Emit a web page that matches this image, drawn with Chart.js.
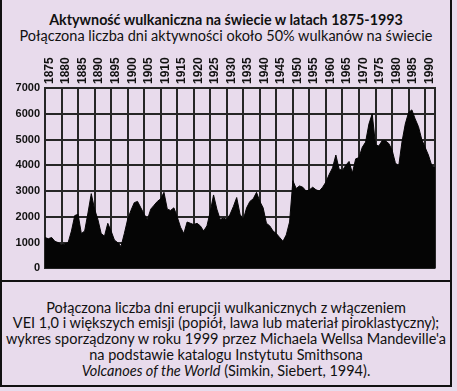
<!DOCTYPE html>
<html>
<head>
<meta charset="utf-8">
<script src="https://cdn.jsdelivr.net/npm/chart.js"></script>
<style>
  body { margin: 0; width: 457px; height: 391px; overflow: hidden; background: #e8dbec; font-family: Lato, sans-serif; color: #111; }
  .frame { position: absolute; left: 0; top: -4px; width: 452px; height: 391px; box-sizing: border-box; border: 2px solid #111; }
  .divider { position: absolute; left: 0; top: 280px; width: 452px; height: 2px; background: #111; }
  .title { position: absolute; left: 0; width: 452px; text-align: center; white-space: nowrap; }
  #t1 { top: 11px; font-size: 14.3px; font-weight: bold; }
  #t2 { top: 27px; font-size: 14.5px; }
  #chartBox { position: absolute; left: 0; top: 44px; }
  .caption { position: absolute; left: 0; top: 299.5px; width: 452px; text-align: center; font-size: 14.5px; line-height: 15.8px; white-space: nowrap; }
</style>
</head>
<body>
<div class="frame"></div>
<div class="divider"></div>
<div class="title" id="t1">Aktywność wulkaniczna na świecie w latach 1875-1993</div>
<div class="title" id="t2">Połączona liczba dni aktywności około 50% wulkanów na świecie</div>
<div id="chartBox"><canvas id="chartCanvas" width="452" height="236"></canvas></div>
<div class="caption">
  Połączona liczba dni erupcji wulkanicznych z włączeniem<br>
  VEI 1,0 i większych emisji (popiół, lawa lub materiał piroklastyczny);<br>
  wykres sporządzony w roku 1999 przez Michaela Wellsa Mandeville'a<br>
  na podstawie katalogu Instytutu Smithsona<br>
  <i>Volcanoes of the World</i> (Simkin, Siebert, 1994).
</div>
<script>
// Years 1875-1993, one value per year
const firstYear = 1875;
const lastYear = 1993;
const activityDays = [
  1200, 1150, 1200, 1050, 1000, 900, 950, 1000, 1450, 2050,   // 1875-1884
  2100, 1350, 1450, 2150, 2900, 2300, 1900, 1350, 1250, 1750, // 1885-1894
  1450, 1100, 1000, 850, 1350, 1900, 2250, 2550, 2600, 2350,  // 1895-1904
  2100, 1900, 2300, 2450, 2600, 2700, 2950, 2300, 2250, 2350, // 1905-1914
  2000, 1600, 1350, 1800, 1750, 1700, 1750, 1650, 1450, 1650, // 1915-1924
  2200, 2850, 2300, 1900, 1950, 1900, 2100, 2400, 2750, 2100, // 1925-1934
  1900, 2350, 2600, 2700, 2950, 2600, 2350, 1750, 1650, 1450, // 1935-1944
  1350, 1200, 1050, 1300, 1800, 3400, 3100, 3200, 3150, 3000, // 1945-1954
  3050, 3150, 3050, 3000, 3150, 3350, 3650, 3900, 4400, 3850, // 1955-1964
  3800, 4000, 4150, 3700, 4250, 4300, 4700, 4900, 5600, 6000, // 1965-1974
  4800, 4750, 4950, 4950, 4850, 4600, 4100, 3950, 4900, 5600, // 1975-1984
  6050, 6150, 5800, 5500, 5000, 4700, 4400, 4000, 3900        // 1985-1993
];
const yearTicks = [1875, 1880, 1885, 1890, 1895, 1900, 1905, 1910, 1915, 1920, 1925, 1930,
  1935, 1940, 1945, 1950, 1955, 1960, 1965, 1970, 1975, 1980, 1985, 1990, 1993];
const valueTicks = [0, 1000, 2000, 3000, 4000, 5000, 6000, 7000];

const points = activityDays.map((v, i) => ({ x: firstYear + i, y: v }));

const gridColor = '#262626';

const ctx = document.getElementById('chartCanvas').getContext('2d');
new Chart(ctx, {
  type: 'line',
  data: {
    datasets: [{
      data: points,
      fill: 'origin',
      backgroundColor: '#050505',
      borderColor: '#050505',
      borderWidth: 1,
      pointRadius: 0,
      tension: 0
    }]
  },
  options: {
    responsive: false,
    animation: false,
    layout: { padding: { right: 17, bottom: 8 } },
    plugins: { legend: { display: false }, tooltip: { enabled: false } },
    scales: {
      x: {
        type: 'linear',
        position: 'top',
        min: firstYear,
        max: lastYear,
        afterBuildTicks: s => { s.ticks = yearTicks.map(v => ({ value: v })); },
        afterFit: s => { s.height = 44; },
        ticks: {
          autoSkip: false,
          minRotation: 90,
          maxRotation: 90,
          padding: 4,
          labelOffset: 19,
          font: { family: 'Liberation Sans', size: 12, weight: 'bold' },
          color: '#111',
          // 1993 only closes the grid on the right, no label
          callback: v => (v % 5 === 0 ? String(v) : '')
        },
        grid: { color: gridColor, lineWidth: 2, drawTicks: false },
        border: { color: gridColor, width: 2 }
      },
      y: {
        min: 0,
        max: 7000,
        afterBuildTicks: s => { s.ticks = valueTicks.map(v => ({ value: v })); },
        afterFit: s => { s.width = 45; },
        ticks: {
          padding: 5,
          font: { family: 'Liberation Sans', size: 11, weight: 'bold' },
          color: '#111',
          callback: v => String(v)
        },
        grid: { color: gridColor, lineWidth: 2, drawTicks: false },
        border: { color: gridColor, width: 2 }
      }
    }
  }
});
</script>
</body>
</html>
